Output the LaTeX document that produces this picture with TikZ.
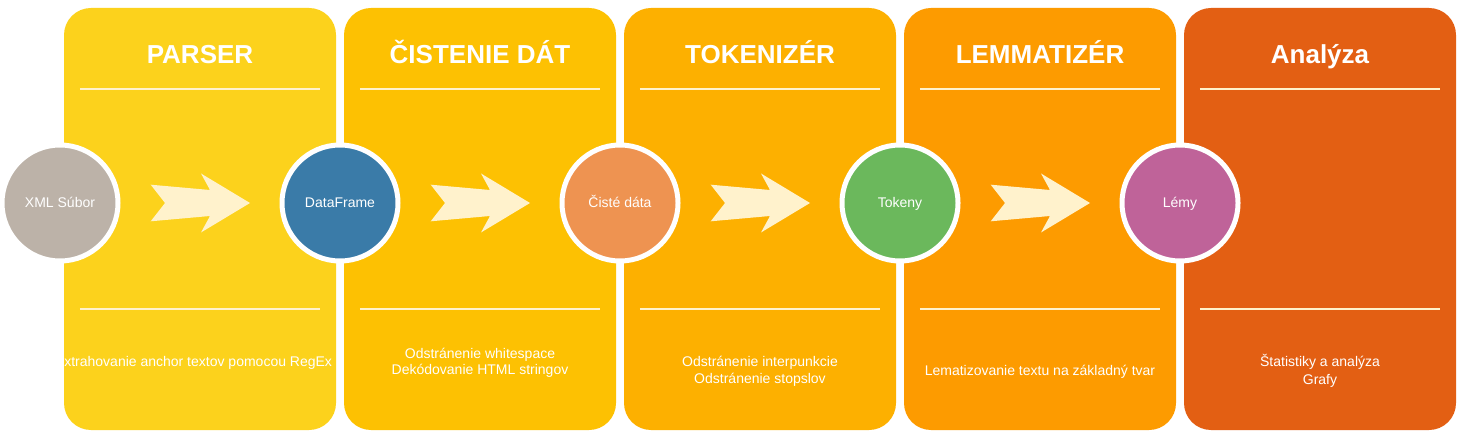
\documentclass[tikz,border=0pt]{standalone}
\usepackage{fontspec}
\setmainfont{Liberation Sans}
\usetikzlibrary{calc}
\definecolor{pA}{HTML}{FCD21C}
\definecolor{pB}{HTML}{FDC102}
\definecolor{pC}{HTML}{FDB000}
\definecolor{pD}{HTML}{FD9B00}
\definecolor{pE}{HTML}{E35F13}
\definecolor{cream}{HTML}{FFF2CC}
\definecolor{cGrey}{HTML}{BCB2A8}
\definecolor{cBlue}{HTML}{3A7BA8}
\definecolor{cOrange}{HTML}{EE9351}
\definecolor{cGreen}{HTML}{6BB85C}
\definecolor{cPurple}{HTML}{BF6399}
\begin{document}
\begin{tikzpicture}[x=1pt,y=-1pt,
  panel/.style={rectangle, rounded corners=27pt, inner sep=0pt, minimum width=272pt, minimum height=422pt, draw=none},
  titletext/.style={anchor=base, inner sep=0pt, text=white, font=\fontsize{26}{30}\selectfont\bfseries},
  sepline/.style={draw=cream, line width=1.6pt},
  circ/.style={circle, minimum size=116pt, inner sep=0pt, draw=white, line width=5pt, text=white, font=\fontsize{14}{16}\selectfont, text height=10pt, text depth=0pt},
  desc/.style={anchor=base, inner sep=0pt, text=white, font=\fontsize{14}{16}\selectfont},
  fatarrow/.pic={\fill[cream] (0.7,-18.3) -- (60,-13) -- (51,-29.5) -- (100,0) -- (51,29.5) -- (60,13) -- (0.7,18.3) -- (15,0) -- cycle;}
]
\useasboundingbox[fill=white] (0,0) rectangle (1464,438);
% panels
\node[panel, fill=pA] (p1) at (200,219) {};
\node[panel, fill=pB] (p2) at (480,219) {};
\node[panel, fill=pC] (p3) at (760,219) {};
\node[panel, fill=pD] (p4) at (1040,219) {};
\node[panel, fill=pE] (p5) at (1320,219) {};
% separator lines
\foreach \p in {p1,p2,p3,p4,p5}{
  \draw[sepline] ($(\p.north west)+(16,81)$) -- ($(\p.north east)+(-16,81)$);
  \draw[sepline] ($(\p.north west)+(16,301)$) -- ($(\p.north east)+(-16,301)$);
}
% titles
\node[titletext] (t1) at (200,64) {PARSER};
\node[titletext] (t2) at (480,64) {ČISTENIE DÁT};
\node[titletext] (t3) at (760,64) {TOKENIZÉR};
\node[titletext] (t4) at (1040,64) {LEMMATIZÉR};
\node[titletext] (t5) at (1320,64) {Analýza};
% descriptions
\node[desc] (d1) at (193.5,366) {Extrahovanie anchor textov pomocou RegEx};
\node[desc] (d2) at (480,358) {\begin{tabular}[t]{@{}c@{}}Odstránenie whitespace\\Dekódovanie HTML stringov\end{tabular}};
\node[desc] (d3) at (760,366) {\begin{tabular}[t]{@{}c@{}}Odstránenie interpunkcie\\[1pt]Odstránenie stopslov\end{tabular}};
\node[desc] (d4) at (1040,375) {Lematizovanie textu na základný tvar};
\node[desc] (d5) at (1320,366) {\begin{tabular}[t]{@{}c@{}}Štatistiky a analýza\\[2pt]Grafy\end{tabular}};
% circles
\node[circ, fill=cGrey] (c1) at (60,203) {XML Súbor};
\node[circ, fill=cBlue] (c2) at (340,203) {DataFrame};
\node[circ, fill=cOrange] (c3) at (620,203) {Čisté dáta};
\node[circ, fill=cGreen] (c4) at (900,203) {Tokeny};
\node[circ, fill=cPurple] (c5) at (1180,203) {Lémy};
% arrows
\pic (a1) at ($(c1.center)+(90,0)$) {fatarrow};
\pic (a2) at ($(c2.center)+(90,0)$) {fatarrow};
\pic (a3) at ($(c3.center)+(90,0)$) {fatarrow};
\pic (a4) at ($(c4.center)+(90,0)$) {fatarrow};
\end{tikzpicture}
\end{document}
